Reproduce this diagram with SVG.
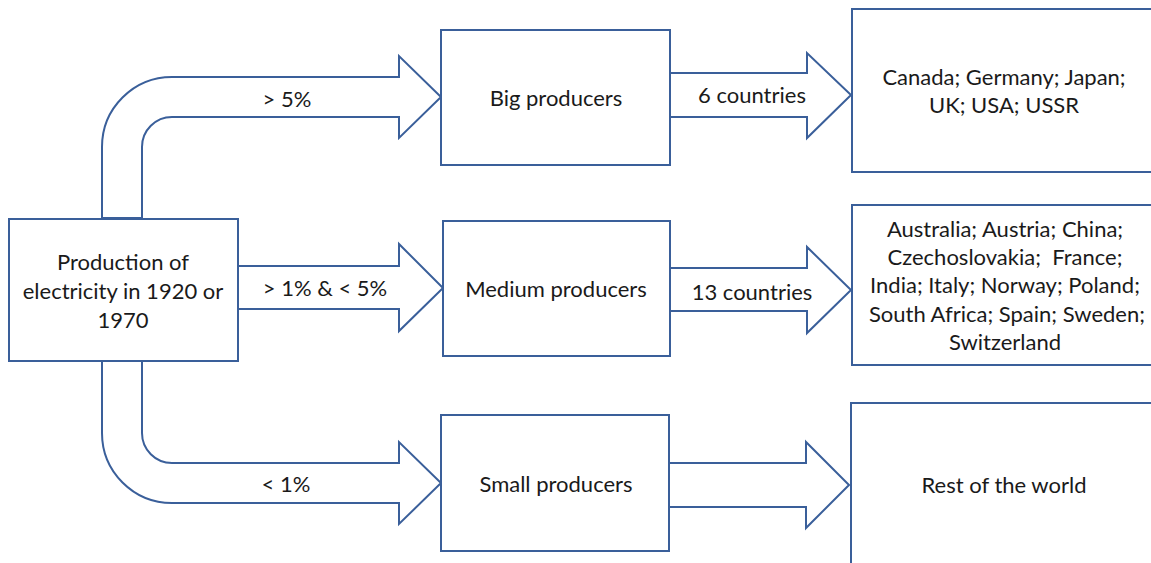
<svg xmlns="http://www.w3.org/2000/svg" width="1151" height="563" viewBox="0 0 1151 563">
<style>
.box{fill:#fff;stroke:#3A5F9A;stroke-width:2}
.arr{fill:#fff;stroke:#3A5F9A;stroke-width:2;stroke-linejoin:miter}
text{font-family:Lato,"Open Sans",sans-serif;font-size:22px;fill:#1a1a1a;text-anchor:middle;dominant-baseline:central}
</style>
<rect width="1151" height="563" fill="#fff"/>
<g id="connectors">
<path class="arr" d="M102,218 L102,147 A70,70 0 0 1 172,77 L399,77 L399,56 L441,97 L399,138 L399,117 L172,117 A30,30 0 0 0 142,147 L142,218 Z"/>
<text x="287" y="98">&gt; 5%</text>
<path class="arr" d="M238,266 L399,266 L399,244 L443,288 L399,331 L399,309 L238,309 Z"/>
<text x="325" y="287">&gt; 1% &amp; &lt; 5%</text>
<path class="arr" d="M102,361 L102,433 A70,70 0 0 0 172,503 L399,503 L399,524 L441,483 L399,442 L399,463 L172,463 A30,30 0 0 1 142,433 L142,361 Z"/>
<text x="286" y="483">&lt; 1%</text>
<path class="arr" d="M670,73 L807,73 L807,53 L851,95 L807,138 L807,117 L670,117 Z"/>
<text x="752" y="94">6 countries</text>
<path class="arr" d="M670,268 L807,268 L807,247 L851,290 L807,333 L807,311 L670,311 Z"/>
<text x="752" y="291">13 countries</text>
<path class="arr" d="M669,463 L806,463 L806,442 L849,485 L806,528 L806,507 L669,507 Z"/>
</g>
<g id="source">
<rect class="box" x="9" y="219" width="229" height="142"/>
<text x="123" y="261">Production of</text>
<text x="123" y="290">electricity in 1920 or</text>
<text x="123" y="319">1970</text>
</g>
<g id="big">
<rect class="box" x="441" y="30" width="229" height="135"/>
<text x="556" y="97">Big producers</text>
</g>
<g id="medium">
<rect class="box" x="443" y="221" width="227" height="135"/>
<text x="556" y="288">Medium producers</text>
</g>
<g id="small">
<rect class="box" x="441" y="415" width="228" height="136"/>
<text x="556" y="483">Small producers</text>
</g>
<g id="big-list">
<rect class="box" x="852" y="9" width="310" height="163"/>
<text x="1004" y="76">Canada; Germany; Japan;</text>
<text x="1004" y="104">UK; USA; USSR</text>
</g>
<g id="medium-list">
<rect class="box" x="852" y="205" width="310" height="160"/>
<text x="1005" y="228">Australia; Austria; China;</text>
<text x="1005" y="256">Czechoslovakia;&#160; France;</text>
<text x="1005" y="284">India; Italy; Norway; Poland;</text>
<text x="1007" y="313">South Africa; Spain; Sweden;</text>
<text x="1005" y="341">Switzerland</text>
</g>
<g id="rest">
<rect class="box" x="851" y="403" width="310" height="170"/>
<text x="1004" y="484">Rest of the world</text>
</g>
</svg>
